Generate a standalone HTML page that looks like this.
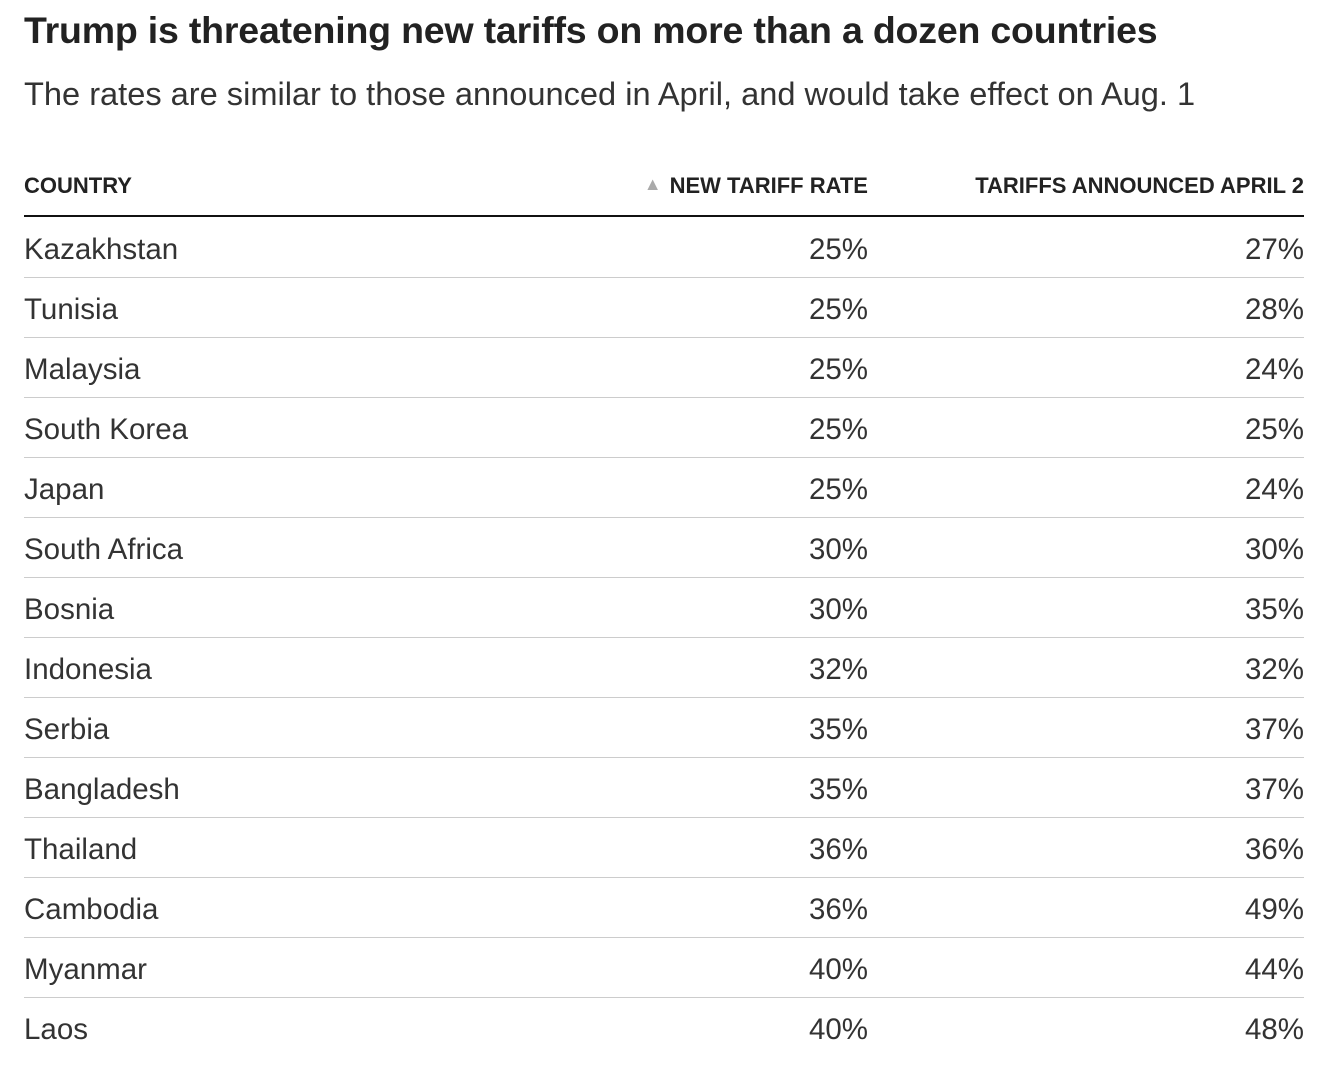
<!DOCTYPE html>
<html><head><meta charset="utf-8"><style>
body{margin:0;background:#fff;width:1338px;height:1068px;overflow:hidden;font-family:"Liberation Sans",sans-serif;color:#222;}
.t{position:absolute;left:24px;top:9px;font-size:37.5px;font-weight:bold;color:#222;white-space:nowrap;letter-spacing:-0.2px}
.s{position:absolute;left:24px;top:75px;font-size:32.6px;color:#333;white-space:nowrap;}
.h{position:absolute;top:173px;font-size:22px;font-weight:bold;color:#222;white-space:nowrap}
.rule{position:absolute;left:24px;width:1280px;top:215px;height:2px;background:#111}
.row{position:absolute;left:24px;width:1280px;height:60px;border-bottom:1px solid #ccc;font-size:29.5px;color:#333}
.row span{position:absolute;top:16px;white-space:nowrap}
.c1{left:0}.c2{right:436px}.c3{right:0}
</style></head><body>
<div class="t">Trump is threatening new tariffs on more than a dozen countries</div>
<div class="s">The rates are similar to those announced in April, and would take effect on Aug. 1</div>
<div class="h" style="left:24px">COUNTRY</div>
<div class="h" style="right:470px"><span style="color:#aaa;font-size:18px;position:relative;top:-3px;margin-right:8px">▲</span>NEW TARIFF RATE</div>
<div class="h" style="right:34px">TARIFFS ANNOUNCED APRIL 2</div>
<div class="rule"></div>
<div id="rows"></div>
<script>
var d=[["Kazakhstan",25,27],["Tunisia",25,28],["Malaysia",25,24],["South Korea",25,25],["Japan",25,24],["South Africa",30,30],["Bosnia",30,35],["Indonesia",32,32],["Serbia",35,37],["Bangladesh",35,37],["Thailand",36,36],["Cambodia",36,49],["Myanmar",40,44],["Laos",40,48]];
var h="";d.forEach(function(r,i){h+='<div class="row" style="top:'+(217+i*60)+'px;'+(i==d.length-1?'border-bottom:none':'')+'"><span class="c1">'+r[0]+'</span><span class="c2">'+r[1]+'%</span><span class="c3">'+r[2]+'%</span></div>';});
document.getElementById("rows").innerHTML=h;
</script>
</body></html>
